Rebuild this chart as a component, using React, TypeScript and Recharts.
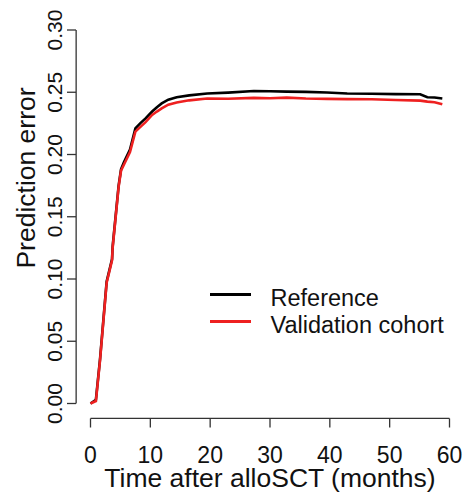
import { LineChart, Line, XAxis, YAxis, ReferenceLine, Legend, Label } from "recharts";

const months = [0, 0.9, 1.6, 2.7, 3.6, 3.7, 4.7, 5.1, 5.6, 6.6, 7.5, 8.3, 9.2, 10.3, 11.1, 11.9, 13, 14.4, 16.5, 19.5, 23, 27.3, 30, 32.8, 36, 39.5, 42.9, 47, 51, 55.1, 56.3, 57.5, 58.8];
const referenceError = [0, 0.003, 0.036, 0.098, 0.116, 0.126, 0.175, 0.188, 0.194, 0.204, 0.221, 0.225, 0.229, 0.2345, 0.238, 0.241, 0.244, 0.246, 0.2475, 0.249, 0.2497, 0.251, 0.2508, 0.2505, 0.2503, 0.2498, 0.249, 0.2488, 0.2485, 0.2484, 0.246, 0.2458, 0.245];
const validationError = [0, 0.002, 0.035, 0.097, 0.115, 0.125, 0.174, 0.187, 0.192, 0.202, 0.2184, 0.222, 0.226, 0.2318, 0.2345, 0.237, 0.24, 0.2418, 0.2435, 0.245, 0.2448, 0.2455, 0.2452, 0.2457, 0.245, 0.2447, 0.2445, 0.2444, 0.2438, 0.2433, 0.2425, 0.242, 0.2404];
const xTicks = [0, 10, 20, 30, 40, 50, 60];
const yTicks = [0, 0.05, 0.1, 0.15, 0.2, 0.25, 0.3];

const data = months.map((m, i) => ({ m, ref: referenceError[i], val: validationError[i] }));

const FONT = "'Liberation Sans', Arial, sans-serif";
const AXIS = "#333";

function YTick({ y, payload }: any) {
  return (
    <g>
      <line x1={67} x2={76} y1={y} y2={y} stroke={AXIS} strokeWidth={1.3} />
      <text x={62} y={y} transform={`rotate(-90, 62, ${y})`} textAnchor="middle" fontSize={21} fontFamily={FONT} fill="#111">
        {payload.value.toFixed(2)}
      </text>
    </g>
  );
}

function XTick({ x, payload }: any) {
  return (
    <g>
      <line x1={x} x2={x} y1={418.5} y2={427.5} stroke={AXIS} strokeWidth={1.3} />
      <text x={x} y={463} textAnchor="middle" fontSize={23} fontFamily={FONT} fill="#111">
        {payload.value}
      </text>
    </g>
  );
}

function LegendBox() {
  const rows = [
    { name: "Reference", color: "#000" },
    { name: "Validation cohort", color: "#ee2020" },
  ];
  return (
    <div style={{ fontFamily: FONT, fontSize: 23.5, color: "#111" }}>
      {rows.map((r) => (
        <div key={r.name} style={{ display: "flex", alignItems: "center", height: 27.5 }}>
          <div style={{ width: 41, height: 3, background: r.color, marginRight: 20 }} />
          <span style={{ position: "relative", top: 4 }}>{r.name}</span>
        </div>
      ))}
    </div>
  );
}

export default function App() {
  return (
    <div style={{ position: "absolute", left: 0, top: 0, background: "#fff" }}>
      <LineChart width={469} height={499} data={data} margin={{ top: 30, right: 19.5, bottom: 0, left: 0 }}>
        <XAxis dataKey="m" type="number" domain={[0, 60]} ticks={xTicks} height={95.5} axisLine={false} tickLine={false} tick={<XTick />} interval={0}>
          <Label
            content={({ viewBox }: any) => (
              <text x={viewBox.x + viewBox.width / 2} y={viewBox.y + 83.5} textAnchor="middle" fontSize={26.5} fontFamily={FONT} fill="#111">
                Time after alloSCT (months)
              </text>
            )}
          />
        </XAxis>
        <YAxis type="number" domain={[0, 0.3]} ticks={yTicks} width={90.5} axisLine={false} tickLine={false} tick={<YTick />} interval={0}>
          <Label
            content={() => (
              <text x={35} y={178} transform="rotate(-90, 35, 178)" textAnchor="middle" fontSize={26.5} fontFamily={FONT} fill="#111">
                Prediction error
              </text>
            )}
          />
        </YAxis>
        <ReferenceLine y={-0.012} ifOverflow="visible" stroke={AXIS} strokeWidth={1.3} segment={[{ x: 0, y: -0.012 }, { x: 60, y: -0.012 }]} />
        <ReferenceLine x={-2.4} ifOverflow="visible" stroke={AXIS} strokeWidth={1.3} segment={[{ x: -2.4, y: 0 }, { x: -2.4, y: 0.3 }]} />
        <Legend layout="vertical" align="center" verticalAlign="middle" content={<LegendBox />} wrapperStyle={{ left: 209.5, top: 280.5, width: 260 }} />
        <Line type="linear" dataKey="ref" name="Reference" stroke="#000" strokeWidth={2.6} dot={false} isAnimationActive={false} />
        <Line type="linear" dataKey="val" name="Validation cohort" stroke="#ee2020" strokeWidth={2.6} dot={false} isAnimationActive={false} />
      </LineChart>
    </div>
  );
}
